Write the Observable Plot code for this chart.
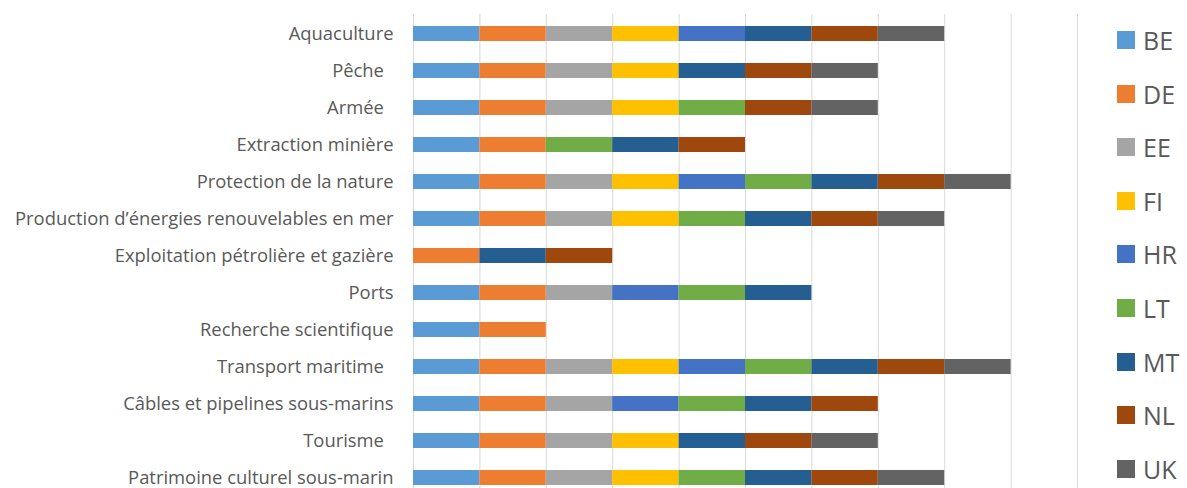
<!DOCTYPE html>
<html>
<head>
<meta charset="utf-8">
<script src="https://cdn.jsdelivr.net/npm/d3@7"></script>
<script src="https://cdn.jsdelivr.net/npm/@observablehq/plot@0.6"></script>
<style>
  html, body { margin: 0; padding: 0; background: #fff; }
  #wrap { position: relative; width: 1187px; height: 488px; overflow: hidden; }
  #legend { position: absolute; left: 1117px; top: 0; font-family: "Open Sans", "Liberation Sans", sans-serif; color: #595959; }
  .item { position: absolute; left: 0; display: flex; align-items: center; white-space: nowrap; font-size: 25px; }
  .sw { width: 18px; height: 18px; margin-right: 8px; }
</style>
</head>
<body>
<div id="wrap"><div id="legend"></div></div>
<script>
const activities = [
  "Aquaculture",
  "Pêche ",
  "Armée ",
  "Extraction minière",
  "Protection de la nature",
  "Production d’énergies renouvelables en mer",
  "Exploitation pétrolière et gazière",
  "Ports",
  "Recherche scientifique",
  "Transport maritime ",
  "Câbles et pipelines sous-marins",
  "Tourisme ",
  "Patrimoine culturel sous-marin"
];
const countries = ["BE", "DE", "EE", "FI", "HR", "LT", "MT", "NL", "UK"];
const colors = ["#5B9BD5", "#ED7D31", "#A5A5A5", "#FFC000", "#4472C4", "#70AD47", "#255E91", "#9E480E", "#636363"];
// 1 = country cites the activity (one per activity, in order above)
const BE = [1, 1, 1, 1, 1, 1, 0, 1, 1, 1, 1, 1, 1];
const DE = [1, 1, 1, 1, 1, 1, 1, 1, 1, 1, 1, 1, 1];
const EE = [1, 1, 1, 0, 1, 1, 0, 1, 0, 1, 1, 1, 1];
const FI = [1, 1, 1, 0, 1, 1, 0, 0, 0, 1, 0, 1, 1];
const HR = [1, 0, 0, 0, 1, 0, 0, 1, 0, 1, 1, 0, 0];
const LT = [0, 0, 1, 1, 1, 1, 0, 1, 0, 1, 1, 0, 1];
const MT = [1, 1, 0, 1, 1, 1, 1, 1, 0, 1, 1, 1, 1];
const NL = [1, 1, 1, 1, 1, 1, 1, 0, 0, 1, 1, 1, 1];
const UK = [1, 1, 1, 0, 1, 1, 0, 0, 0, 1, 0, 1, 1];
const xTicks = [0, 1, 2, 3, 4, 5, 6, 7, 8, 9, 10];

const series = {BE, DE, EE, FI, HR, LT, MT, NL, UK};
const rows = [];
countries.forEach(c => {
  series[c].forEach((v, i) => { if (v) rows.push({activity: activities[i], country: c, value: v}); });
});

const chart = Plot.plot({
  width: 1187,
  height: 488,
  marginLeft: 413,
  marginRight: 110,
  marginTop: 14,
  marginBottom: 0,
  style: {fontFamily: "'Open Sans', 'Liberation Sans', sans-serif", background: "#fff"},
  x: {domain: [0, 10], axis: null},
  y: {domain: activities, range: [13.4, 496.6], paddingInner: 0.6, paddingOuter: 0.3, axis: null},
  color: {domain: countries, range: colors},
  marks: [
    Plot.gridX(xTicks, {stroke: "#d9d9d9", strokeOpacity: 1, strokeWidth: 1}),
    Plot.barX(rows, Plot.stackX({x: "value", y: "activity", fill: "country", order: countries})),
    Plot.axisY({tickSize: 0, tickPadding: 20, fontSize: 18.4, color: "#595959", fill: "#595959",
      tickFormat: d => d.replace(/ $/, "\u00a0\u00a0"), label: null})
  ]
});
document.getElementById("wrap").prepend(chart);

const legend = document.getElementById("legend");
countries.forEach((c, i) => {
  const it = document.createElement("div");
  it.className = "item";
  it.style.top = (40 + i * 53.6 - 15) + "px";
  it.style.height = "30px";
  it.innerHTML = `<span class="sw" style="background:${colors[i]}"></span><span>${c}</span>`;
  legend.appendChild(it);
});
</script>
</body>
</html>
